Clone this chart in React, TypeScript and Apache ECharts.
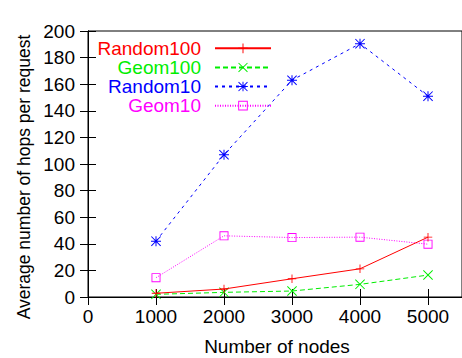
import React, { useEffect, useRef } from "react";
import * as echarts from "echarts";

const nodes = [1000, 2000, 3000, 4000, 5000];
const random100 = [2.8, 6, 13.7, 21.2, 45];
const geom100 = [2, 3.5, 4.5, 9.5, 16.5];
const random10 = [42, 107, 163, 190.5, 151];
const geom10 = [14.5, 46, 44.7, 45, 39.7];
const seriesNames = ["Random100", "Geom100", "Random10", "Geom10"];
const seriesColors = ["#ff0000", "#00ee00", "#0000ff", "#ff00ff"];
const xTitle = "Number of nodes";
const yTitle = "Average number of hops per request";

const FONT = "'Liberation Sans', Arial, Helvetica, sans-serif";

const PLUS = "path://M4.5,0H5.5V10H4.5ZM0,4.5H10V5.5H0Z";
const CROSS = "path://M0.7,0L10,9.3L9.3,10L0,0.7ZM9.3,0L10,0.7L0.7,10L0,9.3Z";
const STAR =
  "path://M4.5,0H5.5V10H4.5ZM0,4.5H10V5.5H0ZM0.7,0L10,9.3L9.3,10L0,0.7ZM9.3,0L10,0.7L0.7,10L0,9.3Z";
const SQUARE = "path://M0,0H10V10H0ZM1,1V9H9V1Z";

export default function App() {
  const ref = useRef<HTMLDivElement>(null);
  useEffect(() => {
    if (!ref.current) return;
    const chart = echarts.init(ref.current, undefined, { renderer: "svg" });
    const values = [random100, geom100, random10, geom10];
    const symbols = [PLUS, CROSS, STAR, SQUARE];
    const dashes: any[] = ["solid", [5, 3], [3, 4], [1, 1.5]];
    const sizes = [8.5, 10, 10, 9];
    const tickAxis = {
      axisLine: { show: true, lineStyle: { color: "#000", width: 1 } },
      axisTick: { show: true, inside: true, length: 8, lineStyle: { color: "#000" } },
      splitLine: { show: false },
    };
    chart.setOption({
      animation: false,
      textStyle: { fontFamily: FONT },
      grid: {
        left: 88,
        top: 31,
        right: -5,
        bottom: 61,
        show: true,
        borderColor: "#000",
        borderWidth: 1,
        backgroundColor: "transparent",
      },
      legend: {
        orient: "vertical",
        align: "right",
        right: 190,
        top: 38.8,
        padding: 0,
        itemWidth: 56,
        itemHeight: 12,
        itemGap: 0,
        textStyle: {
          fontSize: 19,
          lineHeight: 19.1,
          fontFamily: FONT,
          padding: [0, 9, 0, 0],
        },
        data: seriesNames.map((n, i) => ({
          name: n,
          textStyle: { color: seriesColors[i] },
        })),
      },
      graphic: [
        {
          type: "text",
          x: 277,
          y: 346,
          style: {
            text: xTitle,
            fontSize: 19,
            fontFamily: FONT,
            fill: "#000",
            align: "center",
            verticalAlign: "middle",
          },
        },
        {
          type: "text",
          x: 24,
          y: 177,
          rotation: Math.PI / 2,
          style: {
            text: yTitle,
            fontSize: 17.5,
            fontFamily: FONT,
            fill: "#000",
            align: "center",
            verticalAlign: "middle",
          },
        },
      ],
      xAxis: [
        {
          type: "value",
          min: 0,
          max: 5500,
          interval: 1000,
          ...tickAxis,
          axisLabel: {
            fontSize: 19,
            color: "#000",
            margin: 10,
            fontFamily: FONT,
            showMaxLabel: false,
            formatter: (v: number) => (v % 1000 === 0 ? String(v) : ""),
          },
        },
        {
          type: "value",
          position: "top",
          min: 0,
          max: 5500,
          interval: 1000,
          ...tickAxis,
          axisLabel: { show: false },
        },
      ],
      yAxis: [
        {
          type: "value",
          min: 0,
          max: 200,
          interval: 20,
          ...tickAxis,
          axisLabel: { fontSize: 19, color: "#000", margin: 13, fontFamily: FONT },
        },
        {
          type: "value",
          position: "right",
          min: 0,
          max: 200,
          interval: 20,
          ...tickAxis,
          axisLabel: { show: false },
        },
      ],
      series: seriesNames.map((n, i) => ({
        name: n,
        type: "line",
        xAxisIndex: 0,
        yAxisIndex: 0,
        data: nodes.map((x, j) => [x, values[i][j]]),
        symbol: symbols[i],
        symbolSize: sizes[i],
        showAllSymbol: true,
        color: seriesColors[i],
        itemStyle: { color: seriesColors[i] },
        lineStyle: { color: seriesColors[i], width: 1, type: dashes[i] },
        emphasis: { disabled: true },
        z: 10 - i,
      })),
    });
    return () => chart.dispose();
  }, []);
  return (
    <div
      ref={ref}
      style={{ position: "absolute", left: 0, top: 0, width: 462, height: 358 }}
    />
  );
}
